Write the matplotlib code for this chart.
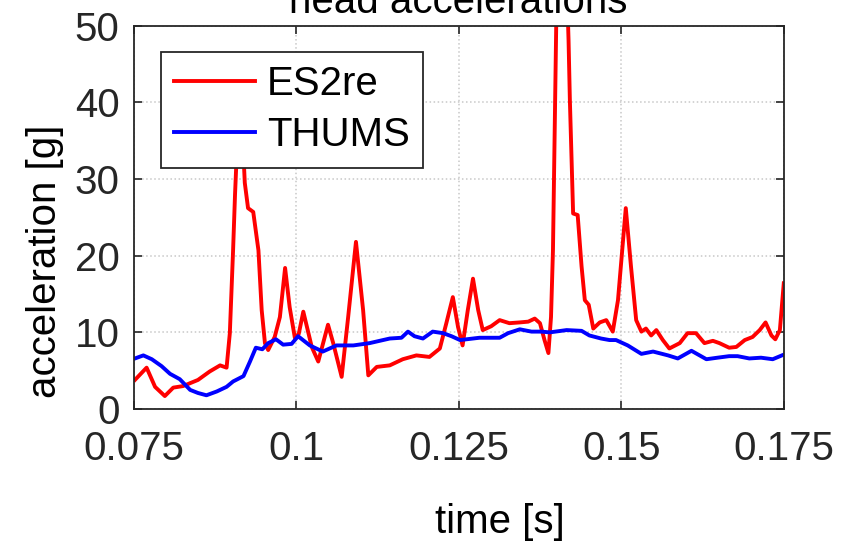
import matplotlib
matplotlib.use("Agg")
import matplotlib.pyplot as plt

# ES2re head acceleration [g] vs time [s]
t_es2re = [0.0752, 0.0770, 0.0783, 0.0798, 0.0811, 0.0826, 0.0849, 0.0867, 0.0883,
           0.0893, 0.0898, 0.0903, 0.0906, 0.0910, 0.0914, 0.0918, 0.0921, 0.0926,
           0.0934, 0.0942, 0.0947, 0.0952, 0.0957, 0.0967, 0.0975, 0.0983, 0.0990,
           0.0998, 0.1004, 0.1011, 0.1024, 0.1034, 0.1049, 0.1057, 0.1070, 0.1080,
           0.1092, 0.1103, 0.1111, 0.1124, 0.1144, 0.1164, 0.1185, 0.1205, 0.1221,
           0.1231, 0.1241, 0.1249, 0.1256, 0.1264, 0.1272, 0.1280, 0.1287, 0.1300,
           0.1313, 0.1328, 0.1344, 0.1357, 0.1367, 0.1375, 0.1382, 0.1388, 0.1392,
           0.1395, 0.1400, 0.1405, 0.1414, 0.1419, 0.1421, 0.1426, 0.1433, 0.1439,
           0.1444, 0.1450, 0.1457, 0.1467, 0.1477, 0.1487, 0.1495, 0.1507, 0.1515,
           0.1523, 0.1531, 0.1538, 0.1546, 0.1554, 0.1564, 0.1574, 0.1590, 0.1602,
           0.1615, 0.1628, 0.1641, 0.1651, 0.1666, 0.1677, 0.1690, 0.1702, 0.1713,
           0.1722, 0.1731, 0.1737, 0.1744, 0.1750]
a_es2re = [3.8, 5.4, 2.9, 1.7, 2.8, 3.0, 3.8, 4.9, 5.7,
           5.4, 9.9, 20.7, 28.0, 36.0, 38.0, 35.0, 29.5, 26.2,
           25.7, 20.7, 12.9, 8.6, 7.7, 9.4, 12.0, 18.4, 13.3,
           9.3, 9.8, 12.7, 8.1, 6.2, 11.0, 8.6, 4.2, 12.0,
           21.8, 12.9, 4.4, 5.5, 5.7, 6.5, 7.0, 6.8, 7.9,
           11.2, 14.6, 10.7, 8.3, 12.9, 17.0, 12.9, 10.3, 10.8,
           11.6, 11.2, 11.3, 11.4, 11.8, 11.2, 9.0, 7.3, 12.0,
           20.7, 50.0, 62.0, 62.0, 48.0, 40.3, 25.5, 25.3, 18.6,
           14.2, 13.6, 10.5, 11.3, 11.6, 10.1, 14.2, 26.2, 18.6,
           11.6, 10.1, 10.5, 9.6, 10.3, 9.0, 7.9, 8.6, 9.9,
           9.9, 8.6, 8.9, 8.6, 8.0, 8.1, 9.0, 9.4, 10.3,
           11.3, 9.6, 9.1, 10.3, 16.4]

# THUMS head acceleration [g] vs time [s]
t_thums = [0.0752, 0.0765, 0.0778, 0.0793, 0.0806, 0.0821, 0.0837, 0.0849, 0.0862,
           0.0878, 0.0893, 0.0903, 0.0919, 0.0929, 0.0938, 0.0948, 0.0957, 0.0969,
           0.0980, 0.0993, 0.1003, 0.1021, 0.1041, 0.1062, 0.1088, 0.1113, 0.1144,
           0.1162, 0.1172, 0.1182, 0.1195, 0.1210, 0.1226, 0.1239, 0.1252, 0.1282,
           0.1313, 0.1326, 0.1344, 0.1362, 0.1377, 0.1390, 0.1416, 0.1439, 0.1451,
           0.1469, 0.1482, 0.1492, 0.1510, 0.1531, 0.1549, 0.1572, 0.1587, 0.1608,
           0.1631, 0.1648, 0.1666, 0.1679, 0.1697, 0.1715, 0.1733, 0.1750]
a_thums = [6.6, 7.0, 6.5, 5.6, 4.6, 3.9, 2.5, 2.1, 1.8,
           2.3, 2.9, 3.6, 4.3, 6.2, 8.0, 7.8, 8.6, 9.1,
           8.4, 8.5, 9.5, 8.3, 7.5, 8.3, 8.3, 8.6, 9.2,
           9.3, 10.1, 9.5, 9.2, 10.1, 9.9, 9.5, 9.0, 9.3,
           9.3, 9.9, 10.4, 10.1, 10.1, 10.0, 10.3, 10.2, 9.6,
           9.2, 9.0, 9.0, 8.3, 7.2, 7.5, 7.0, 6.6, 7.6,
           6.5, 6.7, 6.9, 6.9, 6.6, 6.7, 6.5, 7.1]

x_ticks = [0.075, 0.1, 0.125, 0.15, 0.175]
x_ticklabels = ["0.075", "0.1", "0.125", "0.15", "0.175"]
y_ticks = [0, 10, 20, 30, 40, 50]

plt.rcParams['font.family'] = ['Liberation Sans', 'DejaVu Sans']
dark = '#262626'

fig = plt.figure(figsize=(8.51, 5.44), dpi=100)
ax = fig.add_axes([0.157, 0.248, 0.764, 0.705])

ax.plot(t_es2re, a_es2re, color='#ff0000', lw=2.8, label='ES2re')
ax.plot(t_thums, a_thums, color='#0000ff', lw=2.8, label='THUMS')

ax.set_xlim(0.075, 0.175)
ax.set_ylim(0, 50)
ax.set_xticks(x_ticks)
ax.set_xticklabels(x_ticklabels)
ax.set_yticks(y_ticks)
ax.grid(True, linestyle=':', color='#c8c8c8', lw=1.1)

ax.tick_params(direction='in', length=6, width=1.2, colors=dark,
               labelsize=29, top=True, right=True)
ax.tick_params(axis='x', pad=15)
ax.tick_params(axis='y', pad=10)
for sp in ax.spines.values():
    sp.set_color(dark)
    sp.set_linewidth(1.3)

fig.text(0.539, 0.976, 'head accelerations', ha='center', va='baseline',
         fontsize=29, color='black')
fig.text(0.587, 0.02, 'time [s]', ha='center', va='baseline',
         fontsize=29, color='black')
fig.text(0.053, 0.519, 'acceleration [g]', ha='center', va='center',
         rotation=90, fontsize=29, color='black')

leg = ax.legend(loc='upper left', bbox_to_anchor=(0.042, 0.931), borderaxespad=0,
                fontsize=29, fancybox=False, framealpha=1, edgecolor=dark,
                handlelength=2.0, handletextpad=0.3, borderpad=0.33,
                labelspacing=0.32)
leg.get_frame().set_linewidth(1.3)

fig.savefig('out.png', dpi=100)
